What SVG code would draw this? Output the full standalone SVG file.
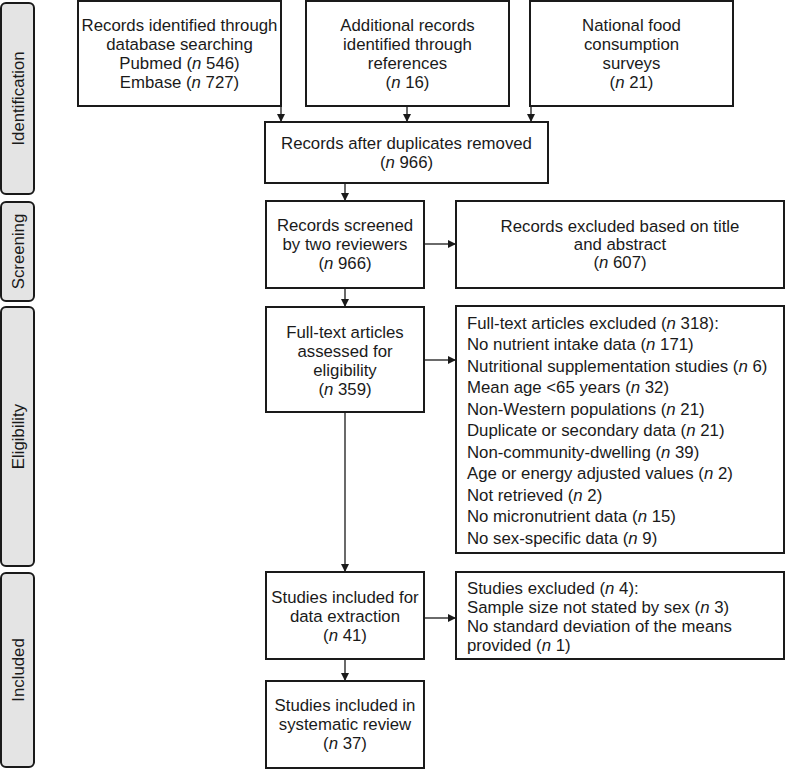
<svg xmlns="http://www.w3.org/2000/svg" width="785" height="769" viewBox="0 0 785 769">
<style>
text{font-family:"Liberation Sans",Arial,sans-serif;font-size:16.8px;fill:#1a1a1a}
.c{text-anchor:middle}
.i{font-style:italic}
.box{fill:#fff;stroke:#1a1a1a;stroke-width:2}
.side{fill:#e4e4e4;stroke:#1a1a1a;stroke-width:2}
.con{stroke:#1a1a1a;stroke-width:1.3;fill:none;marker-end:url(#ah)}
</style>
<defs>
<marker id="ah" viewBox="0 0 10 10" refX="10" refY="5" markerWidth="8" markerHeight="8" markerUnits="userSpaceOnUse" orient="auto">
<path d="M0,0 L10,5 L0,10 z" fill="#1a1a1a"/>
</marker>
</defs>
<g id="side-identification"><rect class="side" x="1" y="3" width="33" height="191" rx="5"/><text class="c" transform="translate(24,98.5) rotate(-90)">Identification</text></g>
<g id="side-screening"><rect class="side" x="1" y="202" width="33" height="99" rx="5"/><text class="c" transform="translate(24,251.5) rotate(-90)">Screening</text></g>
<g id="side-eligibility"><rect class="side" x="1" y="307" width="33" height="259" rx="5"/><text class="c" transform="translate(24,436.5) rotate(-90)">Eligibility</text></g>
<g id="side-included"><rect class="side" x="1" y="573" width="33" height="194" rx="5"/><text class="c" transform="translate(24,670) rotate(-90)">Included</text></g>

<g id="connectors">
<line class="con" x1="281" y1="106" x2="281" y2="122"/>
<line class="con" x1="407" y1="106" x2="407" y2="122"/>
<line class="con" x1="531" y1="106" x2="531" y2="122"/>
<line class="con" x1="345" y1="183" x2="345" y2="201"/>
<line class="con" x1="424" y1="244" x2="456" y2="244"/>
<line class="con" x1="345" y1="288" x2="345" y2="307"/>
<line class="con" x1="424" y1="360" x2="456" y2="360"/>
<line class="con" x1="345" y1="412" x2="345" y2="572"/>
<line class="con" x1="424" y1="618" x2="456" y2="618"/>
<line class="con" x1="345" y1="659" x2="345" y2="681"/>
</g>

<g id="n-database"><rect class="box" x="78" y="1" width="203" height="105"/>
<text class="c" x="179.5" y="31">Records identified through</text>
<text class="c" x="179.5" y="50">database searching</text>
<text class="c" x="179.5" y="69">Pubmed (<tspan class="i">n</tspan> 546)</text>
<text class="c" x="179.5" y="88">Embase (<tspan class="i">n</tspan> 727)</text></g>

<g id="n-references"><rect class="box" x="306" y="1" width="203" height="105"/>
<text class="c" x="407.5" y="31">Additional records</text>
<text class="c" x="407.5" y="50">identified through</text>
<text class="c" x="407.5" y="69">references</text>
<text class="c" x="407.5" y="88">(<tspan class="i">n</tspan> 16)</text></g>

<g id="n-surveys"><rect class="box" x="530" y="1" width="203" height="105"/>
<text class="c" x="631.5" y="31">National food</text>
<text class="c" x="631.5" y="50">consumption</text>
<text class="c" x="631.5" y="69">surveys</text>
<text class="c" x="631.5" y="88">(<tspan class="i">n</tspan> 21)</text></g>

<g id="n-duplicates"><rect class="box" x="265" y="122" width="283" height="61"/>
<text class="c" x="406.5" y="149">Records after duplicates removed</text>
<text class="c" x="406.5" y="168">(<tspan class="i">n</tspan> 966)</text></g>

<g id="n-screened"><rect class="box" x="266" y="201" width="158" height="87"/>
<text class="c" x="345" y="231">Records screened</text>
<text class="c" x="345" y="250">by two reviewers</text>
<text class="c" x="345" y="269">(<tspan class="i">n</tspan> 966)</text></g>

<g id="n-excluded-title"><rect class="box" x="456" y="201" width="328" height="87"/>
<text class="c" x="620" y="232">Records excluded based on title</text>
<text class="c" x="620" y="250">and abstract</text>
<text class="c" x="620" y="268">(<tspan class="i">n</tspan> 607)</text></g>

<g id="n-fulltext"><rect class="box" x="266" y="307" width="158" height="105"/>
<text class="c" x="345" y="338">Full-text articles</text>
<text class="c" x="345" y="357">assessed for</text>
<text class="c" x="345" y="376">eligibility</text>
<text class="c" x="345" y="395">(<tspan class="i">n</tspan> 359)</text></g>

<g id="n-fulltext-excluded"><rect class="box" x="456" y="306" width="328" height="247"/>
<text x="467" y="328.5">Full-text articles excluded (<tspan class="i">n</tspan> 318):</text>
<text x="467" y="350">No nutrient intake data (<tspan class="i">n</tspan> 171)</text>
<text x="467" y="371.5">Nutritional supplementation studies (<tspan class="i">n</tspan> 6)</text>
<text x="467" y="393">Mean age &lt;65 years (<tspan class="i">n</tspan> 32)</text>
<text x="467" y="414.5">Non-Western populations (<tspan class="i">n</tspan> 21)</text>
<text x="467" y="436">Duplicate or secondary data (<tspan class="i">n</tspan> 21)</text>
<text x="467" y="457.5">Non-community-dwelling (<tspan class="i">n</tspan> 39)</text>
<text x="467" y="479">Age or energy adjusted values (<tspan class="i">n</tspan> 2)</text>
<text x="467" y="500.5">Not retrieved (<tspan class="i">n</tspan> 2)</text>
<text x="467" y="522">No micronutrient data (<tspan class="i">n</tspan> 15)</text>
<text x="467" y="543.5">No sex-specific data (<tspan class="i">n</tspan> 9)</text></g>

<g id="n-extraction"><rect class="box" x="266" y="572" width="158" height="87"/>
<text class="c" x="345" y="603">Studies included for</text>
<text class="c" x="345" y="622">data extraction</text>
<text class="c" x="345" y="641">(<tspan class="i">n</tspan> 41)</text></g>

<g id="n-studies-excluded"><rect class="box" x="456" y="572" width="328" height="87"/>
<text x="467" y="593.5">Studies excluded (<tspan class="i">n</tspan> 4):</text>
<text x="467" y="612.5">Sample size not stated by sex (<tspan class="i">n</tspan> 3)</text>
<text x="467" y="631.5">No standard deviation of the means</text>
<text x="467" y="650.5">provided (<tspan class="i">n</tspan> 1)</text></g>

<g id="n-review"><rect class="box" x="266" y="681" width="158" height="87"/>
<text class="c" x="345" y="711">Studies included in</text>
<text class="c" x="345" y="730">systematic review</text>
<text class="c" x="345" y="749">(<tspan class="i">n</tspan> 37)</text></g>
</svg>
